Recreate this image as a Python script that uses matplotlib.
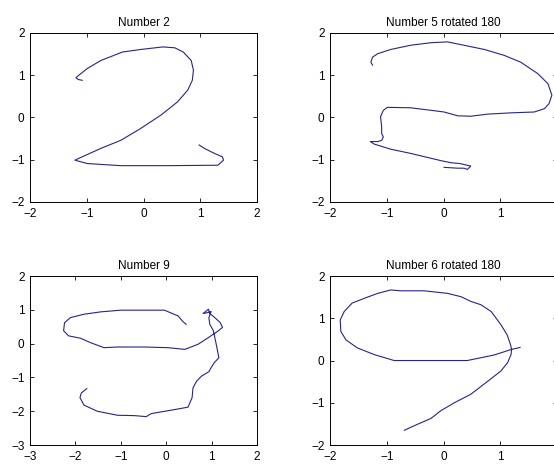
"""Hand-drawn digit traces, four panels in a 2x2 grid."""

import matplotlib

matplotlib.use("Agg")

import matplotlib.pyplot as plt


LINE_COLOR = "#25258c"

# Number 2
two_x = [-1.08, -1.15, -1.19, -1.15, -0.99, -0.75, -0.37, -0.05, 0.34, 0.55, 0.70, 0.84, 0.88,
         0.86, 0.78, 0.60, 0.31, -0.05, -0.40, -0.75, -1.21, -0.99, -0.40, 0.42, 1.31,
         1.41, 1.39, 1.25, 1.07, 0.98]
two_y = [0.88, 0.90, 0.94, 0.99, 1.16, 1.35, 1.55, 1.61, 1.67, 1.65, 1.55, 1.35, 1.12,
         0.88, 0.65, 0.37, 0.06, -0.26, -0.54, -0.73, -1.01, -1.09, -1.14, -1.14, -1.13,
         -1.01, -0.93, -0.85, -0.73, -0.65]

# Number 5 rotated 180
five_x = [-1.25, -1.28, -1.25, -1.16, -0.93, -0.58, -0.22, 0.07, 0.36, 0.72, 1.07, 1.36,
          1.66, 1.84, 1.91, 1.86, 1.78, 1.60, 1.19, 0.78, 0.48, 0.25, 0.01, -0.22, -0.58,
          -0.99, -1.06, -1.11, -1.09, -1.09, -1.06, -1.09, -1.16, -1.29, -1.22, -0.93,
          -0.58, -0.05, 0.13, 0.29, 0.48, 0.42, 0.36, 0.25, 0.01]
five_y = [1.24, 1.31, 1.43, 1.51, 1.61, 1.71, 1.77, 1.79, 1.71, 1.61, 1.47, 1.31,
          1.04, 0.80, 0.53, 0.33, 0.21, 0.13, 0.11, 0.08, 0.03, 0.04, 0.13, 0.17, 0.23,
          0.24, 0.17, 0.02, -0.22, -0.38, -0.46, -0.54, -0.57, -0.57, -0.63, -0.75,
          -0.85, -1.02, -1.07, -1.09, -1.15, -1.23, -1.20, -1.20, -1.18]

# Number 9
nine_x = [0.44, 0.37, 0.26, -0.04, -0.56, -1.00, -1.44, -1.81, -2.11, -2.24, -2.26, -2.15,
          -1.89, -1.67, -1.37, -1.07, -0.48, 0.04, 0.41, 0.70, 0.93, 1.15, 1.24, 1.19,
          1.07, 0.96, 0.93, 0.87, 0.81, 0.89, 0.99, 0.94, 0.96, 1.04, 1.07, 1.11, 1.16,
          1.06, 0.99, 0.94, 0.78, 0.67, 0.59, 0.57, 0.48, 0.19, -0.33, -0.44, -0.70,
          -1.07, -1.52, -1.81, -1.90, -1.87, -1.75]
nine_y = [0.57, 0.65, 0.82, 0.99, 0.99, 0.99, 0.94, 0.87, 0.77, 0.62, 0.38, 0.23,
          0.16, 0.03, -0.12, -0.10, -0.10, -0.12, -0.17, -0.02, 0.18, 0.38, 0.48, 0.62,
          0.77, 0.89, 1.02, 0.95, 0.89, 0.91, 0.95, 0.77, 0.57, 0.38, 0.18, -0.07, -0.42,
          -0.56, -0.71, -0.83, -0.96, -1.11, -1.31, -1.60, -1.88, -1.95, -2.07, -2.16,
          -2.13, -2.12, -2.00, -1.82, -1.60, -1.46, -1.33]

# Number 6 rotated 180
six_x = [-0.69, -0.46, -0.22, -0.05, 0.19, 0.48, 0.78, 1.01, 1.13, 1.19, 1.20, 1.18,
         1.12, 1.01, 0.84, 0.66, 0.48, 0.31, 0.07, -0.34, -0.75, -0.93, -1.16, -1.40,
         -1.61, -1.75, -1.82, -1.81, -1.72, -1.52, -1.22, -0.87, -0.46, 0.01, 0.42,
         0.60, 0.89, 1.19, 1.35]
six_y = [-1.65, -1.51, -1.37, -1.19, -1.00, -0.80, -0.49, -0.25, -0.05, 0.14, 0.26, 0.38,
         0.61, 0.85, 1.16, 1.32, 1.40, 1.51, 1.59, 1.65, 1.65, 1.67, 1.59, 1.47,
         1.36, 1.16, 0.96, 0.69, 0.49, 0.30, 0.14, 0.00, 0.00, 0.00, 0.00,
         0.05, 0.13, 0.26, 0.31]

panels = [
    ("Number 2", two_x, two_y, (-2, 2), (-2, 2), [0.0542, 0.5684]),
    ("Number 5 rotated 180", five_x, five_y, (-2, 2), (-2, 2), [0.5957, 0.5684]),
    ("Number 9", nine_x, nine_y, (-3, 2), (-3, 2), [0.0542, 0.0491]),
    ("Number 6 rotated 180", six_x, six_y, (-2, 2), (-2, 2), [0.5957, 0.0491]),
]

plt.rcParams["font.family"] = ["Liberation Sans", "DejaVu Sans"]

# right-hand panels run a little past the figure edge, as in the original capture
fig = plt.figure(figsize=(5.54, 4.68), dpi=100)
for title, xs, ys, xlim, ylim, (left, bottom) in panels:
    ax = fig.add_axes([left, bottom, 0.4097, 0.3611])
    ax.plot(xs, ys, color=LINE_COLOR, linewidth=0.8)
    ax.set_xlim(*xlim)
    ax.set_ylim(*ylim)
    ax.set_xticks(range(xlim[0], xlim[1] + 1))
    ax.set_yticks(range(ylim[0], ylim[1] + 1))
    ax.tick_params(direction="in", top=True, right=True, length=3, width=0.6,
                   labelsize=8.5, pad=4)
    for spine in ax.spines.values():
        spine.set_linewidth(0.7)
    ax.set_title(title, fontsize=8.5, pad=5)

fig.savefig("out.png", dpi=100)
plt.close(fig)
